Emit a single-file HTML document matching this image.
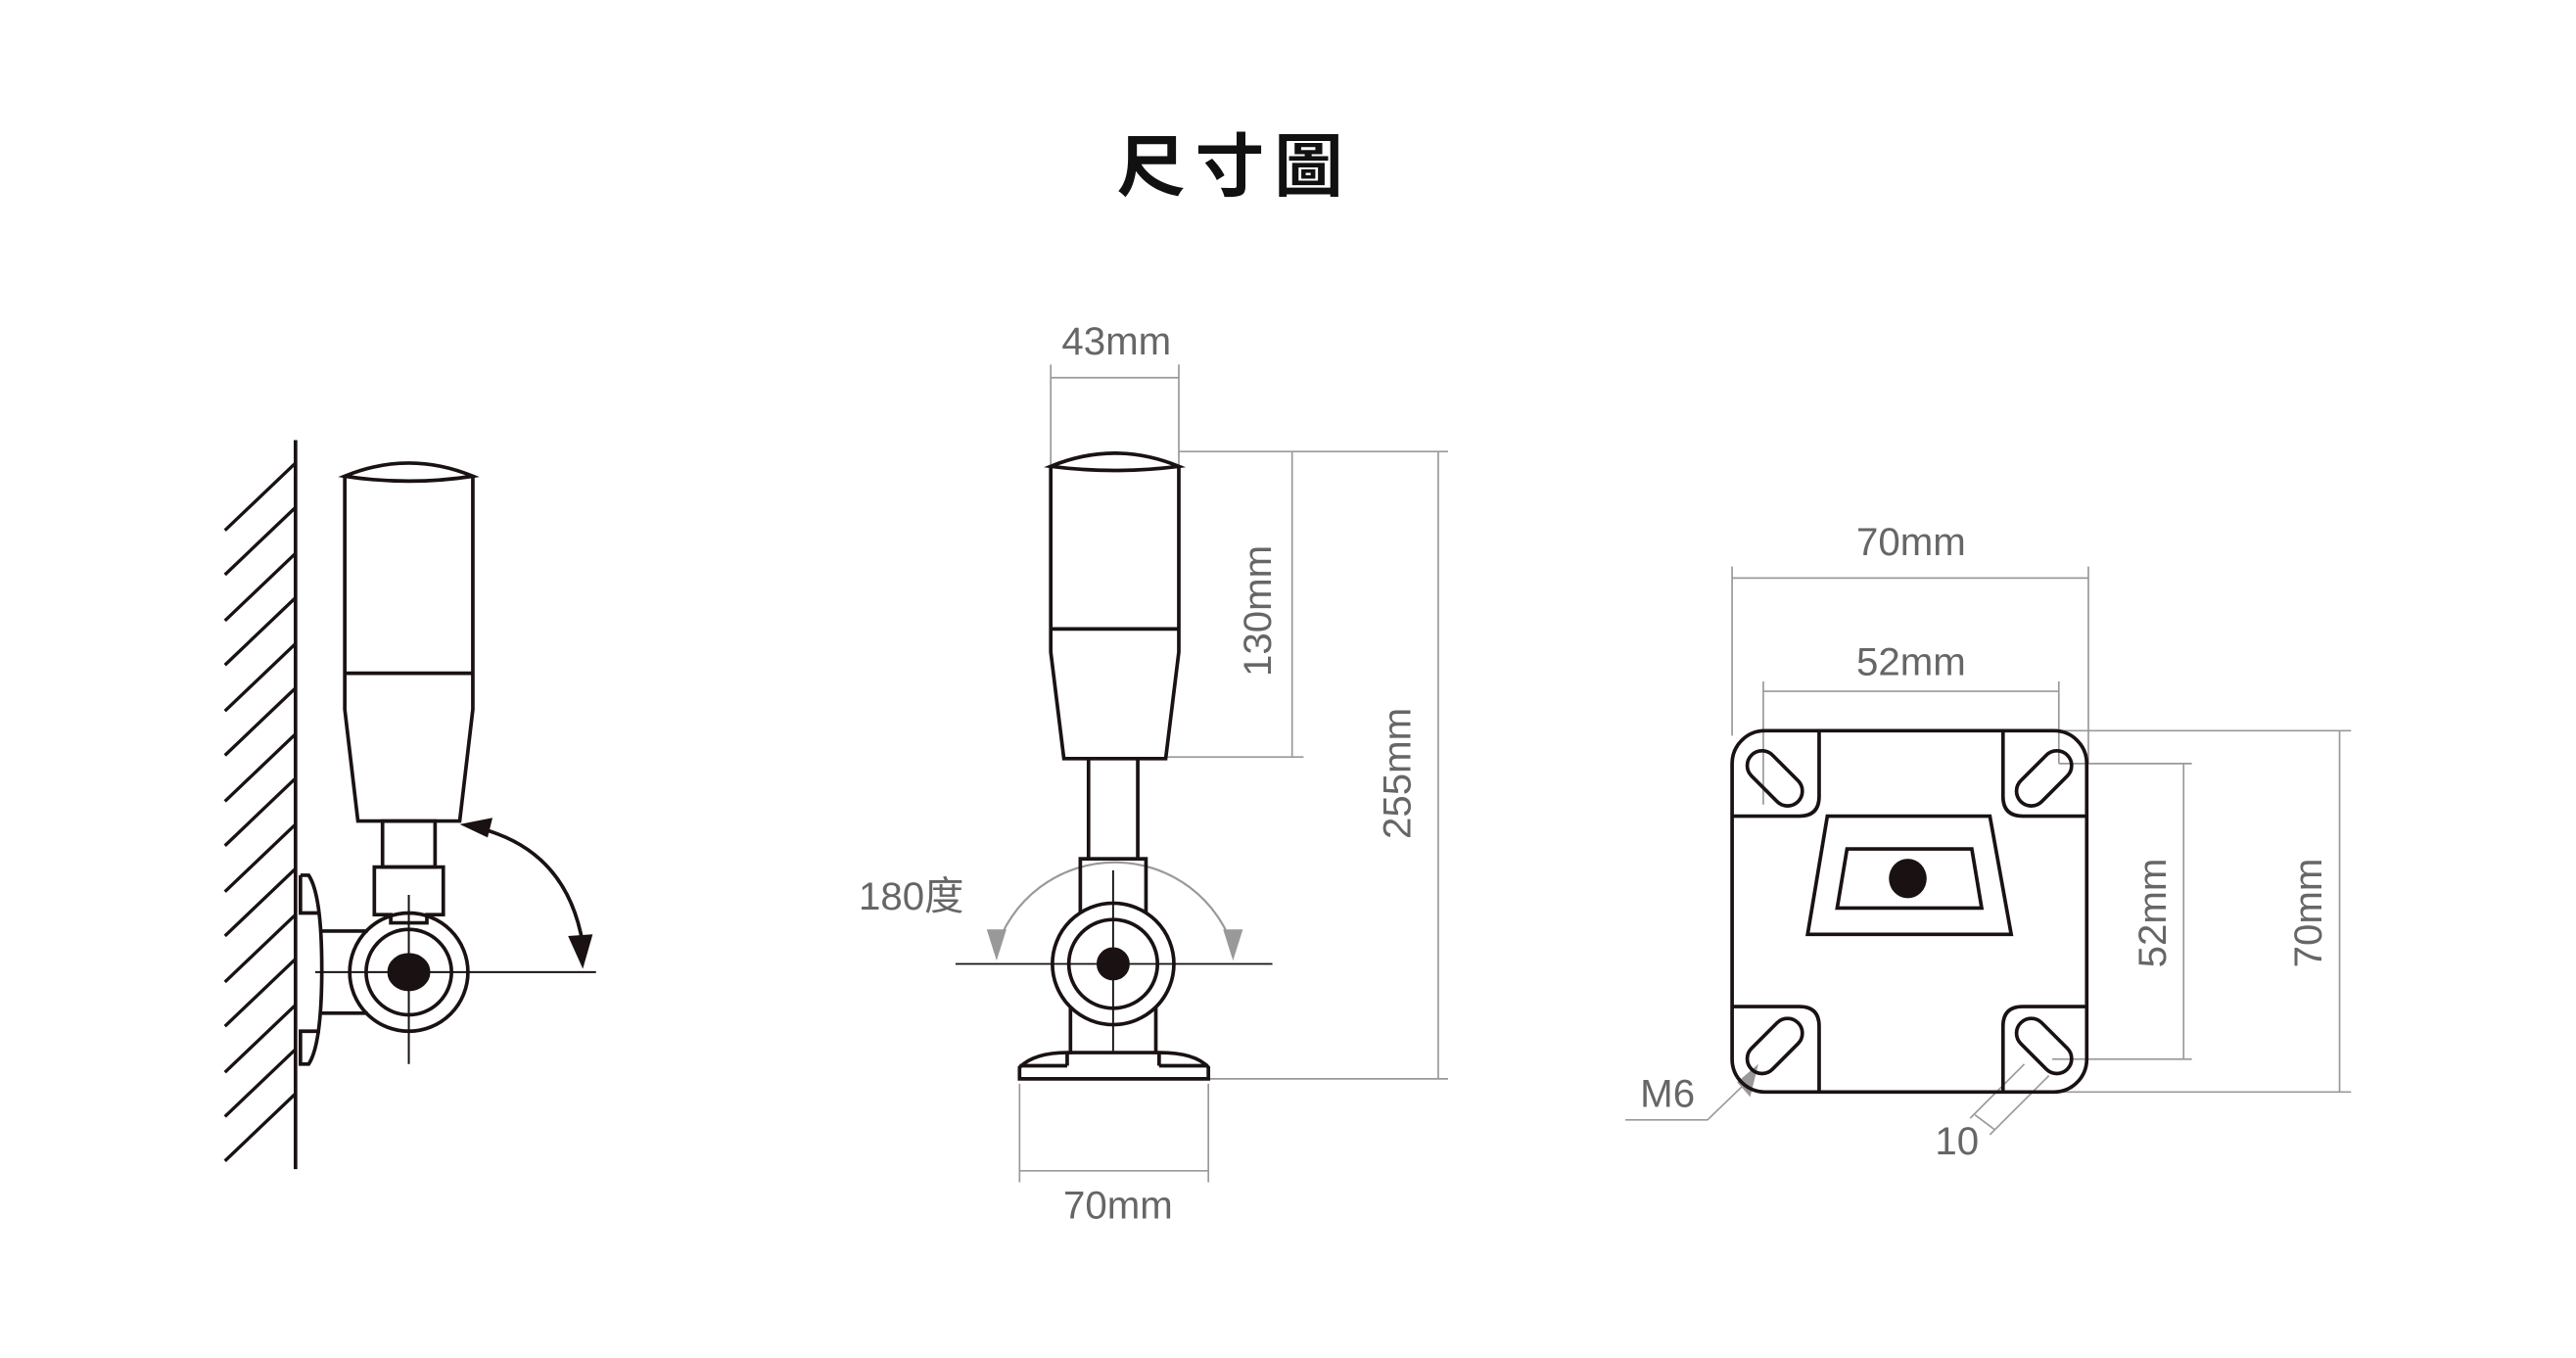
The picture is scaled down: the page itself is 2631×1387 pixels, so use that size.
<!DOCTYPE html>
<html><head><meta charset="utf-8"><style>
html,body{margin:0;padding:0;background:#fff;}
svg{display:block;}
text{font-family:"Liberation Sans","Noto Sans CJK TC",sans-serif;}
</style></head><body>
<svg width="2631" height="1387" viewBox="0 0 1569 827" preserveAspectRatio="none" xmlns="http://www.w3.org/2000/svg">
<rect width="1569" height="827" fill="#fff"/>
<text x="752" y="116" font-size="42" font-weight="bold" text-anchor="middle" letter-spacing="6" fill="#111" style="font-family:'Noto Sans CJK TC',sans-serif">尺寸圖</text>

<!-- Figure 1 -->
<g stroke="#1a1212" fill="none" stroke-width="2.2">
<line x1="180" y1="268" x2="180" y2="712"/>
<g stroke-width="2">
<line x1="137" y1="323" x2="180" y2="282"/><line x1="137" y1="350" x2="180" y2="309"/>
<line x1="137" y1="378" x2="180" y2="337"/><line x1="137" y1="405" x2="180" y2="364"/>
<line x1="137" y1="433" x2="180" y2="392"/><line x1="137" y1="460" x2="180" y2="419"/>
<line x1="137" y1="488" x2="180" y2="447"/><line x1="137" y1="515" x2="180" y2="474"/>
<line x1="137" y1="543" x2="180" y2="502"/><line x1="137" y1="570" x2="180" y2="529"/>
<line x1="137" y1="598" x2="180" y2="557"/><line x1="137" y1="625" x2="180" y2="584"/>
<line x1="137" y1="653" x2="180" y2="612"/><line x1="137" y1="680" x2="180" y2="639"/>
<line x1="137" y1="707" x2="180" y2="666"/>
</g>
<path d="M210,290 Q249,274 288,290 Q249,296 210,290 Z"/>
<path d="M210,290 L210,432 L218,500 L280,500 L288,432 L288,290"/>
<line x1="210" y1="410" x2="288" y2="410"/>
<rect x="233" y="500" width="32" height="28"/>
<path d="M228,528 L270,528 L270,557 L260,557 L260,562 L238,562 L238,557 L228,557 Z"/>
<path d="M183,533 L188,533 Q196,545 196,590 Q196,636 188,648 L183,648 L183,628 L195,628 M183,533 L183,556 L195,556"/>
<line x1="196" y1="567" x2="224" y2="567"/><line x1="196" y1="617" x2="224" y2="617"/>
<circle cx="249" cy="592" r="36"/>
<circle cx="249" cy="592" r="26"/>
<ellipse cx="249" cy="592" rx="12" ry="10.5" fill="#1a1212"/>
<path d="M286,503 Q345,515 355,575"/>
</g>
<g stroke="#1a1212" stroke-width="1.2">
<line x1="192" y1="592" x2="363" y2="592"/>
<line x1="249" y1="545" x2="249" y2="648"/>
</g>
<polygon points="280,502 300,498 297,510" fill="#1a1212"/>
<polygon points="355,590 346,570 361,569" fill="#1a1212"/>

<!-- Figure 2 -->
<g stroke="#999" stroke-width="1" fill="none">
<line x1="640" y1="222" x2="640" y2="283"/><line x1="718" y1="222" x2="718" y2="283"/>
<line x1="640" y1="230" x2="718" y2="230"/>
<line x1="718" y1="275" x2="882" y2="275"/>
<line x1="710" y1="461" x2="794" y2="461"/>
<line x1="787" y1="275" x2="787" y2="461"/>
<line x1="736" y1="657" x2="882" y2="657"/>
<line x1="876" y1="275" x2="876" y2="657"/>
<line x1="621" y1="660" x2="621" y2="720"/><line x1="736" y1="660" x2="736" y2="720"/>
<line x1="621" y1="713" x2="736" y2="713"/>
<path d="M606,580 A76,76 0 0 1 752,580" stroke-width="1.3"/>
</g>
<polygon points="601,566 613,566 607,585" fill="#999"/>
<polygon points="745,566 757,566 751,585" fill="#999"/>
<g stroke="#1a1212" fill="none" stroke-width="2.2">
<path d="M640,284 Q679,268 718,284 Q679,289 640,284 Z"/>
<path d="M640,284 L640,397 L648,462 L710,462 L718,397 L718,284"/>
<line x1="640" y1="383" x2="718" y2="383"/>
<line x1="663" y1="462" x2="663" y2="523"/><line x1="693" y1="462" x2="693" y2="523"/>
<rect x="658" y="523" width="40" height="35"/>
<circle cx="678" cy="587" r="37" fill="#fff"/>
<circle cx="678" cy="587" r="27"/>
<circle cx="678" cy="587" r="9" fill="#1a1212"/>
<line x1="652" y1="613" x2="652" y2="642"/><line x1="704" y1="613" x2="704" y2="642"/>
<path d="M621,657 L621,650 Q630,641 650,641 L706,641 Q728,641 736,650 L736,657 Z"/>
<line x1="650" y1="641" x2="650" y2="649"/><line x1="706" y1="641" x2="706" y2="649"/>
<line x1="621" y1="649" x2="650" y2="649"/><line x1="706" y1="649" x2="736" y2="649"/>
</g>
<g stroke="#1a1212" stroke-width="1.1">
<line x1="582" y1="587" x2="775" y2="587"/>
<line x1="678" y1="530" x2="678" y2="640"/>
</g>
<g fill="#666" font-size="24">
<text x="680" y="216" text-anchor="middle">43mm</text>
<text x="681" y="742" text-anchor="middle">70mm</text>
<text x="555" y="554" text-anchor="middle">180<tspan style="font-family:'Noto Sans CJK TC',sans-serif">度</tspan></text>
<text transform="translate(774,372) rotate(-90)" text-anchor="middle">130mm</text>
<text transform="translate(859,471) rotate(-90)" text-anchor="middle">255mm</text>
</g>

<!-- Figure 3 -->
<g stroke="#999" stroke-width="1" fill="none">
<line x1="1055" y1="345" x2="1055" y2="448"/><line x1="1272" y1="345" x2="1272" y2="465"/>
<line x1="1055" y1="352" x2="1272" y2="352"/>
<line x1="1074" y1="415" x2="1074" y2="490"/><line x1="1254" y1="415" x2="1254" y2="465"/>
<line x1="1074" y1="421" x2="1254" y2="421"/>
<line x1="1254" y1="465" x2="1335" y2="465"/>
<line x1="1250" y1="645" x2="1335" y2="645"/>
<line x1="1330" y1="465" x2="1330" y2="645"/>
<line x1="1255" y1="445" x2="1432" y2="445"/>
<line x1="1240" y1="665" x2="1432" y2="665"/>
<line x1="1425" y1="445" x2="1425" y2="665"/>
<polyline points="990,682 1040,682 1068,655"/>
<line x1="1200" y1="681" x2="1233" y2="648"/>
<line x1="1212" y1="691" x2="1248" y2="655"/>
<line x1="1203" y1="679" x2="1215" y2="688"/>
</g>
<polygon points="1071,648 1058,659 1066,668" fill="#999"/>
<g stroke="#1a1212" fill="none" stroke-width="2.2">
<rect x="1055" y="445" width="216" height="220" rx="20"/>
<path d="M1108,445 L1108,485 Q1108,497 1096,497 L1055,497"/>
<path d="M1220,445 L1220,485 Q1220,497 1232,497 L1271,497"/>
<path d="M1108,665 L1108,625 Q1108,613 1096,613 L1055,613"/>
<path d="M1220,665 L1220,625 Q1220,613 1232,613 L1271,613"/>
<rect x="-20" y="-9" width="40" height="18" rx="9" transform="translate(1081,474) rotate(45)"/>
<rect x="-20" y="-9" width="40" height="18" rx="9" transform="translate(1245,474) rotate(-45)"/>
<rect x="-20" y="-9" width="40" height="18" rx="9" transform="translate(1081,637) rotate(-45)"/>
<rect x="-20" y="-9" width="40" height="18" rx="9" transform="translate(1245,637) rotate(45)"/>
<polygon points="1113,497 1212,497 1225,569 1101,569"/>
<polygon points="1125,517 1201,517 1207,553 1119,553"/>
</g>
<ellipse cx="1162" cy="535" rx="11.5" ry="12" fill="#1a1212"/>
<g fill="#666" font-size="24">
<text x="1164" y="338" text-anchor="middle">70mm</text>
<text x="1164" y="411" text-anchor="middle">52mm</text>
<text transform="translate(1319,556) rotate(-90)" text-anchor="middle">52mm</text>
<text transform="translate(1414,556) rotate(-90)" text-anchor="middle">70mm</text>
<text x="999" y="674">M6</text>
<text x="1192" y="703" text-anchor="middle">10</text>
</g>
</svg>
</body></html>
